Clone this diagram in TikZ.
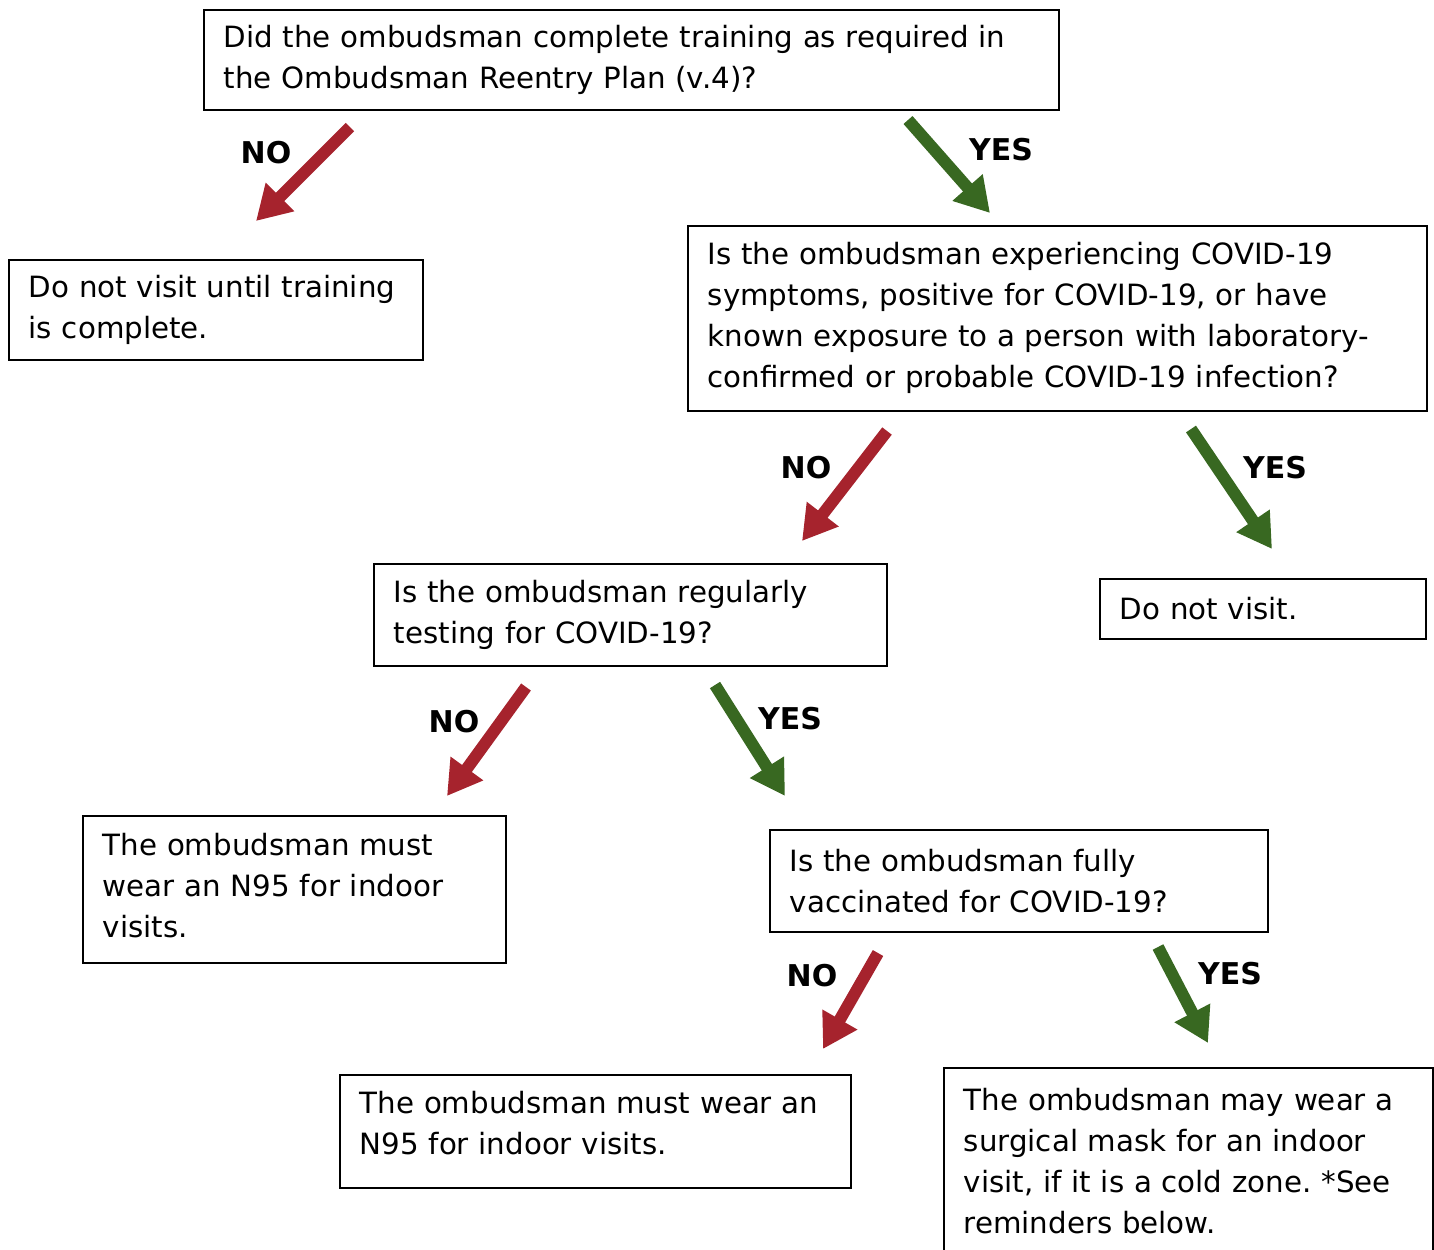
\documentclass[tikz,border=0pt]{standalone}
\usepackage{fontspec}
\setmainfont{DejaVu Sans}
\usetikzlibrary{arrows.meta}
\definecolor{nored}{RGB}{166,35,45}
\definecolor{yesgreen}{RGB}{56,104,33}
\frenchspacing
\begin{document}
\begin{tikzpicture}[x=0.5pt,y=-0.5pt,
	box/.style={draw, line width=0.8pt, anchor=north west, align=left, inner xsep=10pt, inner ysep=2pt, text width=#1, font=\fontsize{14.65}{20.5}\selectfont},
	noarrow/.style={nored, line width=6pt, -{Triangle[length=17pt,width=19pt]}},
	yesarrow/.style={yesgreen, line width=6pt, -{Triangle[length=17pt,width=19pt]}},
	lbl/.style={font=\fontsize{15}{18}\selectfont\bfseries}]
	\useasboundingbox (0,0) rectangle (1434,1249);
	% questions
	\node[box=407.5pt, minimum height=50pt] (train) at (203,9) {Did the ombudsman complete training as required in\\the Ombudsman Reentry Plan (v.4)?};
	\node[box=349.5pt, minimum height=92.5pt] (symptoms) at (687,225) {Is the ombudsman experiencing COVID-19\\symptoms, positive for COVID-19, or have\\known exposure to a person with laboratory-\\confirmed or probable COVID-19 infection?};
	\node[box=236.5pt, minimum height=51pt] (testing) at (373,563) {Is the ombudsman regularly\\testing for COVID-19?};
	\node[box=229pt, minimum height=51pt] (vaccinated) at (769,829) {Is the ombudsman fully\\vaccinated for COVID-19?};
	% answers
	\node[box=187pt, minimum height=50pt] (notrained) at (8,259) {Do not visit until training\\is complete.};
	\node[box=143pt, minimum height=30pt] (novisit) at (1099,578) {Do not visit.};
	\node[box=191.5pt, minimum height=73.5pt, text depth=45.4pt] (notest) at (82,815) {The ombudsman must\\wear an N95 for indoor\\visits.};
	\node[box=235.5pt, minimum height=56.5pt, text depth=28.5pt] (novax) at (339,1074) {The ombudsman must wear an\\N95 for indoor visits.};
	\node[box=224.5pt, minimum height=93pt] (vax) at (943,1067) {The ombudsman may wear a\\surgical mask for an indoor\\visit, if it is a cold zone. *See\\reminders below.};
	% arrow ends
	\coordinate (no1s) at (350,127);
	\coordinate (no1e) at (256,221);
	\coordinate (yes1s) at (908,120);
	\coordinate (yes1e) at (990,213);
	\coordinate (no2s) at (887,431);
	\coordinate (no2e) at (802,541);
	\coordinate (yes2s) at (1191,429);
	\coordinate (yes2e) at (1272,549);
	\coordinate (no3s) at (526,687);
	\coordinate (no3e) at (447,796);
	\coordinate (yes3s) at (715,685);
	\coordinate (yes3e) at (785,796);
	\coordinate (no4s) at (878,953);
	\coordinate (no4e) at (823,1049);
	\coordinate (yes4s) at (1158,947);
	\coordinate (yes4e) at (1208,1043);
	\draw[noarrow] (no1s) -- (no1e);
	\draw[yesarrow] (yes1s) -- (yes1e);
	\draw[noarrow] (no2s) -- (no2e);
	\draw[yesarrow] (yes2s) -- (yes2e);
	\draw[noarrow] (no3s) -- (no3e);
	\draw[yesarrow] (yes3s) -- (yes3e);
	\draw[noarrow] (no4s) -- (no4e);
	\draw[yesarrow] (yes4s) -- (yes4e);
	% labels
	\node[lbl] (no1) at (266,153) {NO};
	\node[lbl] (yes1) at (1001,150) {YES};
	\node[lbl] (no2) at (806,468) {NO};
	\node[lbl] (yes2) at (1275,468) {YES};
	\node[lbl] (no3) at (454,722) {NO};
	\node[lbl] (yes3) at (790,719) {YES};
	\node[lbl] (no4) at (812,976) {NO};
	\node[lbl] (yes4) at (1230,974) {YES};
\end{tikzpicture}
\end{document}
